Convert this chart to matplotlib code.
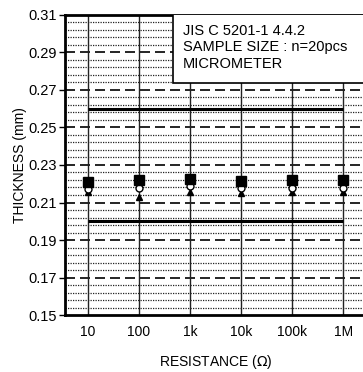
import numpy as np
import matplotlib.pyplot as plt
from matplotlib.patches import Rectangle

plt.rcParams['font.family'] = ['Liberation Sans', 'DejaVu Sans']

# datos
resistencias = ['10', '100', '1k', '10k', '100k', '1M']
espesor_max = [0.2210, 0.2222, 0.2225, 0.2217, 0.2220, 0.2222]
espesor_prom = [0.2172, 0.2177, 0.2188, 0.2177, 0.2177, 0.2177]
espesor_min = [0.2156, 0.2130, 0.2156, 0.2150, 0.2156, 0.2156]
limite_sup = 0.26
limite_inf = 0.20
yticks = [0.15, 0.17, 0.19, 0.21, 0.23, 0.25, 0.27, 0.29, 0.31]

x = np.arange(len(resistencias))

fig = plt.figure(figsize=(3.63, 3.72), dpi=100)
ax = fig.add_axes([0.179, 0.153, 0.83, 0.807])

# grilla
for yy in np.arange(0.15, 0.31, 0.004):
    if abs(((yy - 0.15) / 0.02) - round((yy - 0.15) / 0.02)) > 0.01:
        ax.axhline(yy, color='#222222', lw=0.9, ls=(0, (1, 1)), zorder=1)
for yy in yticks[1:-1]:
    ax.axhline(yy, color='black', lw=1.2, ls=(0, (6, 3)), zorder=1)
for xx in x:
    ax.axvline(xx, color='#222222', lw=1.0, zorder=2)

# limites
ax.hlines([limite_sup, limite_inf], x[0], x[-1], color='black', lw=2.2, zorder=3)

# mediciones
ax.plot(x, espesor_min, '^', color='black', ms=4.5, zorder=4)
ax.plot(x, espesor_prom, 'o', mfc='white', mec='black', mew=1.0, ms=5, zorder=5)
ax.plot(x, espesor_max, 's', color='black', ms=6.5, zorder=6)

# recuadro de texto
ax.add_patch(Rectangle((1.67, 0.2737), 5, 0.05, facecolor='white',
                       edgecolor='black', lw=1.2, zorder=7))
ax.text(1.86, 0.3050, 'JIS C 5201-1 4.4.2\nSAMPLE SIZE : n=20pcs\nMICROMETER',
        fontsize=10.5, va='top', ha='left', linespacing=1.2, zorder=8)

ax.set_xlim(-0.45, 5.45)
ax.set_ylim(0.15, 0.31)
ax.set_xticks(x)
ax.set_xticklabels(resistencias)
ax.set_yticks(yticks)
ax.set_yticklabels(['%.2f' % t for t in yticks])
ax.tick_params(axis='x', length=0, labelsize=10, pad=7)
ax.tick_params(axis='y', length=4, width=1, labelsize=10.5, pad=2)
for s in ['left', 'bottom', 'top']:
    ax.spines[s].set_linewidth(2)
ax.spines['right'].set_visible(False)

ax.set_xlabel('RESISTANCE ($\\Omega$)', fontsize=10, labelpad=10)
ax.set_ylabel('THICKNESS (mm)', fontsize=10, labelpad=1)

fig.savefig('out.png', dpi=100)
